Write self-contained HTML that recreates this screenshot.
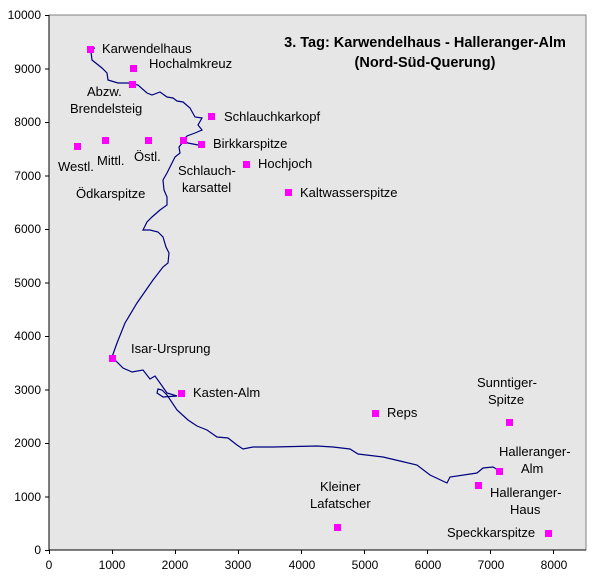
<!DOCTYPE html>
<html><head><meta charset="utf-8"><style>
body{margin:0;background:#fff}
svg{display:block;font-family:"Liberation Sans",Arial,sans-serif;font-size:12px}
</style></head><body>
<svg width="608" height="580" viewBox="0 0 608 580">
<rect x="49" y="15" width="537" height="535" fill="#e6e6e6" stroke="#808080" stroke-width="1"/>
<g stroke="#000" stroke-width="1" fill="none">
<line x1="49" y1="15" x2="49" y2="550"/>
<line x1="49" y1="550" x2="586" y2="550"/>
<path d="M45,550.5h4M45,497h4M45,443.5h4M45,390h4M45,336.5h4M45,283h4M45,229.5h4M45,176h4M45,122.5h4M45,69h4M45,15.5h4"/>
<path d="M49.5,550v4M112.5,550v4M175.5,550v4M238.5,550v4M301.5,550v4M364.5,550v4M427.5,550v4M490.5,550v4M553.5,550v4"/>
</g>
<g text-anchor="end">
<text x="41" y="554">0</text><text x="41" y="501">1000</text><text x="41" y="447">2000</text><text x="41" y="394">3000</text><text x="41" y="340">4000</text><text x="41" y="287">5000</text><text x="41" y="233">6000</text><text x="41" y="180">7000</text><text x="41" y="126">8000</text><text x="41" y="73">9000</text><text x="41" y="19">10000</text>
</g>
<g text-anchor="middle">
<text x="49" y="569">0</text><text x="112" y="569">1000</text><text x="175" y="569">2000</text><text x="238" y="569">3000</text><text x="302" y="569">4000</text><text x="365" y="569">5000</text><text x="428" y="569">6000</text><text x="491" y="569">7000</text><text x="554" y="569">8000</text>
</g>
<polyline fill="none" stroke="#000080" stroke-width="1.2" points="95,48 90,49 91,52 92,60 102,68 107,73 108,80 118,83 128,83 138,85 147,93 152,95 160,92 167,97 173,98 177,101 183,102 190,108 195,117 202,118 198,125 202,130 195,133 187,136 183,140 188,143 198,145 183,142 179,147 180,153 175,157 172,163 167,173 163,180 164,190 167,197 167,205 160,210 152,217 147,222 143,230 150,230 158,232 163,237 166,247 169,253 168,263 163,267 153,280 137,303 125,323 117,343 112,357 123,368 132,372 143,370 150,379 155,376 160,383 167,393 177,396 163,397 157,393 158,389 162,390 167,395 177,410 188,420 197,426 207,430 217,437 228,438 237,445 243,449 253,447 273,447 317,446 333,447 350,449 358,454 383,457 400,461 417,465 430,475 447,483 450,477 477,473 483,468 493,467 498,470"/>
<g fill="#ff00ff">
<rect x="87" y="46" width="7" height="7"/><rect x="130" y="65" width="7" height="7"/><rect x="129" y="81" width="7" height="7"/><rect x="208" y="113" width="7" height="7"/><rect x="74" y="143" width="7" height="7"/><rect x="102" y="137" width="7" height="7"/><rect x="145" y="137" width="7" height="7"/><rect x="180" y="137" width="7" height="7"/><rect x="198" y="141" width="7" height="7"/><rect x="243" y="161" width="7" height="7"/><rect x="285" y="189" width="7" height="7"/><rect x="109" y="355" width="7" height="7"/><rect x="178" y="390" width="7" height="7"/><rect x="372" y="410" width="7" height="7"/><rect x="506" y="419" width="7" height="7"/><rect x="496" y="468" width="7" height="7"/><rect x="475" y="482" width="7" height="7"/><rect x="334" y="524" width="7" height="7"/><rect x="545" y="530" width="7" height="7"/>
</g>
<g font-size="13">
<text x="102" y="53">Karwendelhaus</text>
<text x="149" y="68">Hochalmkreuz</text>
<text x="87" y="96">Abzw.</text>
<text x="70" y="113">Brendelsteig</text>
<text x="224" y="121">Schlauchkarkopf</text>
<text x="213" y="148">Birkkarspitze</text>
<text x="258" y="168">Hochjoch</text>
<text x="300" y="197">Kaltwasserspitze</text>
<text x="58" y="171">Westl.</text>
<text x="97" y="165">Mittl.</text>
<text x="134" y="161">Östl.</text>
<text x="76" y="198">Ödkarspitze</text>
<text x="178" y="175">Schlauch-</text>
<text x="182" y="192">karsattel</text>
<text x="131" y="353">Isar-Ursprung</text>
<text x="193" y="397">Kasten-Alm</text>
<text x="387" y="417">Reps</text>
<text x="477" y="387">Sunntiger-</text>
<text x="488" y="404">Spitze</text>
<text x="499" y="456">Halleranger-</text>
<text x="521" y="473">Alm</text>
<text x="490" y="497">Halleranger-</text>
<text x="510" y="514">Haus</text>
<text x="320" y="491">Kleiner</text>
<text x="310" y="508">Lafatscher</text>
<text x="447" y="537">Speckkarspitze</text>
</g>
<g font-weight="bold" font-size="14.5" text-anchor="middle">
<text x="425" y="47">3. Tag: Karwendelhaus - Halleranger-Alm</text>
<text x="425" y="67">(Nord-Süd-Querung)</text>
</g>
</svg>
</body></html>
